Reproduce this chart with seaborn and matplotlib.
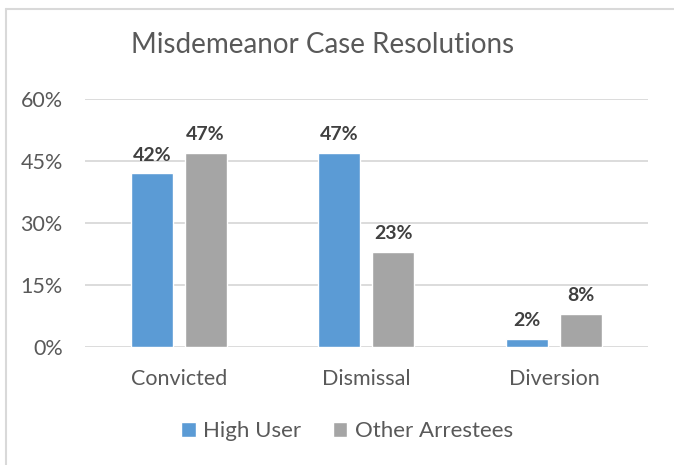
import matplotlib
matplotlib.use("Agg")
import matplotlib.pyplot as plt
import matplotlib.lines as mlines
import seaborn as sns
import pandas as pd

categories = ["Convicted", "Dismissal", "Diversion"]
series_names = ["High User", "Other Arrestees"]
high_user = [0.42, 0.47, 0.02]
other_arrestees = [0.47, 0.23, 0.08]
y_ticks = [0, 0.15, 0.30, 0.45, 0.60]
y_tick_labels = ["0%", "15%", "30%", "45%", "60%"]
colors = ["#5B9BD5", "#A5A5A5"]

df = pd.DataFrame({
    "category": categories * 2,
    "group": [series_names[0]] * 3 + [series_names[1]] * 3,
    "value": high_user + other_arrestees,
})

sns.set_theme(style="white")
plt.rcParams["font.family"] = ["Lato", "DejaVu Sans"]
text_color = "#595959"

fig = plt.figure(figsize=(6.74, 4.65), dpi=100)
ax = fig.add_axes([0.126, 0.254, 0.835, 0.533])

sns.barplot(data=df, x="category", y="value", hue="group", order=categories,
            hue_order=series_names, palette=colors, width=0.574, gap=0.22,
            saturation=1, ax=ax, legend=True)

ax.set_ylim(0, 0.6)
ax.set_xlim(-0.5, 2.5)
ax.set_yticks(y_ticks)
ax.set_yticklabels(y_tick_labels)
ax.yaxis.grid(True, color="#D9D9D9", linewidth=1.3)
ax.set_axisbelow(True)
for s in ax.spines.values():
    s.set_visible(False)
ax.tick_params(axis="both", length=0, labelsize=15.5, labelcolor=text_color)
ax.tick_params(axis="x", pad=16)
ax.tick_params(axis="y", pad=16)
ax.set_xlabel("")
ax.set_ylabel("")

for cont in ax.containers:
    labels = [f"{v * 100:.0f}%" for v in cont.datavalues]
    ax.bar_label(cont, labels=labels, padding=7, fontsize=14,
                 fontweight="bold", color="#404040")

fig.text(0.478, 0.903, "Misdemeanor Case Resolutions", ha="center", va="center",
         fontsize=20, color=text_color)

handles, lbls = ax.get_legend_handles_labels()
ax.legend(handles, lbls, loc="center", bbox_to_anchor=(0.515, 0.073),
          bbox_transform=fig.transFigure, ncol=2, frameon=False,
          fontsize=16, labelcolor=text_color, handlelength=0.65,
          handleheight=0.65, handletextpad=0.35, columnspacing=1.4)

# chart border (top and left visible in the reference crop)
fig.add_artist(mlines.Line2D([6 / 674, 1], [1 - 9 / 465] * 2,
                             transform=fig.transFigure, color="#D9D9D9", linewidth=1.5))
fig.add_artist(mlines.Line2D([6 / 674] * 2, [0, 1 - 9 / 465],
                             transform=fig.transFigure, color="#D9D9D9", linewidth=1.5))

fig.savefig("out.png", dpi=100)
